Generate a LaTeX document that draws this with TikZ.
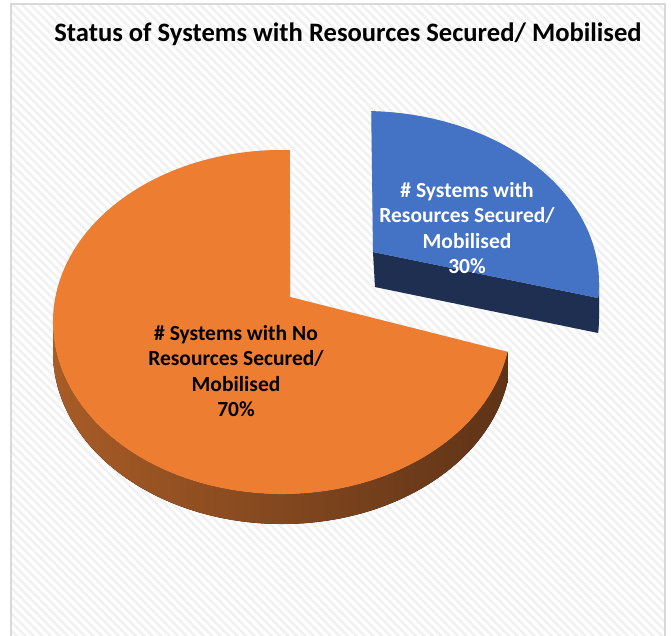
\documentclass[tikz,border=0pt]{standalone}
\usepackage{fontspec}
\setmainfont{Carlito}
\usetikzlibrary{calc,patterns.meta}
\definecolor{pieorange}{HTML}{ED7D31}
\definecolor{pieblue}{HTML}{4472C4}
\definecolor{bluedark}{HTML}{1E2F52}
\definecolor{sidelight}{HTML}{A85C26}
\definecolor{sidedark}{HTML}{5E3317}
\definecolor{framegray}{HTML}{D9D9D9}
\definecolor{stripegray}{HTML}{F1F1F1}
\tikzset{
	slicelabel/.style={align=center,font=\bfseries\fontsize{21.5}{25.5}\selectfont},
	charttitle/.style={font=\bfseries\fontsize{26.6}{32}\selectfont},
	pieshadow/.style={black,opacity=0.05},
}
\begin{document}
\begin{tikzpicture}[x=1pt,y=-1pt]
				%\draw [help lines] (0,0) grid (671,636);
				\useasboundingbox (0,0) rectangle (671,636);
				\fill[white] (0,0) rectangle (671,636);
				\fill[pattern={Lines[angle=-45,distance=6pt,line width=2.5pt]},pattern color=stripegray] (11,4) rectangle (665,640);
				\draw[framegray,line width=1.5pt] (11,640) -- (11,4) -- (665,4) -- (665,640);
				\node[charttitle] (title) at (348,34) {Status of Systems with Resources Secured/ Mobilised};
				% big slice
				\coordinate (oc) at (282,322);
				\coordinate (ov) at (290,297);
				\foreach \s in {2,4,6}
					\fill[pieshadow,shift={(\s,\s)}] (ov) -- ($(oc)+(10:229 and 172)$) -- ++(0,30) arc[start angle=10,end angle=180,x radius=229,y radius=172] -- ++(0,-30) arc[start angle=180,end angle=272,x radius=229,y radius=172] -- cycle;
				\fill[left color=sidelight,middle color=sidedark,right color=sidedark] ($(oc)+(10:229 and 172)$) arc[start angle=10,end angle=180,x radius=229,y radius=172] -- ++(0,30) arc[start angle=180,end angle=10,x radius=229,y radius=172] -- cycle;
				\fill[pieorange] (ov) -- ($(oc)+(10:229 and 172)$) arc[start angle=10,end angle=272,x radius=229,y radius=172] -- cycle;
				% exploded slice
				\coordinate (bc) at (363,283);
				\coordinate (bv) at (373,252);
				\foreach \s in {2,4,6}
					\fill[pieshadow,shift={(\s,\s)}] (bv) -- ($(bc)+(272:236 and 172)$) arc[start angle=272,end angle=360,x radius=236,y radius=172] -- ++(0,35) arc[start angle=0,end angle=5,x radius=236,y radius=172] -- ($(bv)+(2,35)$) -- cycle;
				\fill[bluedark] (bv) -- ($(bc)+(5:236 and 172)$) arc[start angle=5,end angle=0,x radius=236,y radius=172] -- ++(0,35) arc[start angle=0,end angle=5,x radius=236,y radius=172] -- ($(bv)+(2,35)$) -- cycle;
				\fill[pieblue] (bv) -- ($(bc)+(272:236 and 172)$) arc[start angle=272,end angle=365,x radius=236,y radius=172] -- cycle;
				\node[slicelabel] (nolbl) at (236,371) {\# Systems with No\\Resources Secured/\\Mobilised\\70\%};
				\node[slicelabel,white] (securedlbl) at (467,228) {\# Systems with\\Resources Secured/\\Mobilised\\30\%};
\end{tikzpicture}
\end{document}
